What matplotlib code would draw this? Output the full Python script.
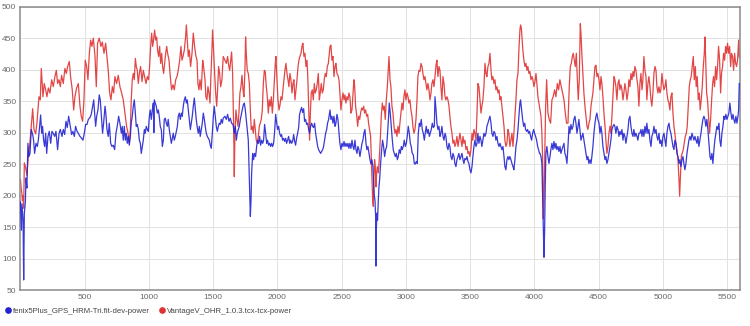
import matplotlib
matplotlib.use("Agg")
import matplotlib.pyplot as plt
from matplotlib.lines import Line2D

# --- Data (vertices of each trace) ---
blue_label = "fenix5Plus_GPS_HRM-Tri.fit-dev-power"
red_label = "VantageV_OHR_1.0.3.tcx-tcx-power"

blue_x = [0, 5, 7, 12, 20, 25, 30, 38, 43, 50, 58, 66, 74, 84, 95, 102, 110, 121, 131, 139,
          149, 157, 165, 172, 180, 188, 196, 204, 214, 224, 235, 245, 255, 266, 276, 289, 300, 310, 323, 333,
          344, 354, 364, 375, 385, 398, 408, 419, 429, 440, 450, 463, 476, 486, 497, 507, 518, 528, 541, 551,
          562, 570, 577, 585, 593, 603, 613, 621, 632, 639, 647, 658, 665, 673, 683, 691, 702, 712, 722, 733,
          743, 753, 764,
          774, 785, 792, 800, 808, 816, 823, 831, 839, 847, 855, 862, 870, 878, 886, 894, 901, 909, 917, 925,
          933, 940, 948, 956, 964, 971, 979, 987, 995, 1003, 1010, 1018, 1026, 1034, 1038, 1042, 1049, 1057, 1065, 1073,
          1080, 1088, 1096, 1104, 1112, 1119, 1127, 1135, 1143, 1150, 1158, 1166, 1174, 1182, 1189, 1197, 1205, 1213, 1221, 1228,
          1236, 1244, 1252, 1259, 1267, 1275, 1283, 1291, 1298, 1306, 1314, 1322, 1329, 1337, 1345, 1353, 1361, 1368, 1376, 1384,
          1392, 1399, 1407, 1415, 1423, 1431, 1438, 1446, 1454, 1462, 1470, 1477, 1485, 1493, 1501, 1508, 1516, 1524, 1532, 1540,
          1547, 1555, 1563, 1571, 1578,
          1591, 1602, 1612, 1623, 1633, 1643, 1654, 1664, 1672, 1680, 1687, 1695, 1703, 1711, 1719, 1726, 1734, 1742, 1750, 1757,
          1765, 1773, 1778, 1783, 1789, 1794, 1799, 1807, 1814, 1822, 1830, 1838, 1846, 1853, 1861, 1869, 1877, 1885, 1892, 1900,
          1908, 1916, 1923, 1931, 1939, 1947, 1955, 1962, 1970, 1978, 1986, 1994, 2001, 2009, 2017, 2025, 2032, 2040, 2048, 2056,
          2064, 2071, 2079, 2087, 2095, 2102, 2110, 2118, 2126, 2134, 2141, 2149, 2157, 2165, 2172, 2180, 2188, 2196, 2204, 2211,
          2219, 2227, 2235, 2243, 2250, 2258, 2266, 2274, 2281, 2289, 2297, 2305, 2313, 2320, 2328, 2336, 2344, 2352, 2359, 2367,
          2375, 2383, 2390, 2398,
          2409, 2416, 2424, 2432, 2440, 2448, 2455, 2463, 2471, 2479, 2486, 2494, 2502, 2510, 2518, 2525, 2533, 2541, 2549, 2556,
          2564, 2572, 2580, 2588, 2595, 2603, 2611, 2619, 2626, 2634, 2642, 2650, 2658, 2665, 2673, 2681, 2689, 2696, 2704, 2712,
          2720, 2728, 2735, 2743, 2748, 2754, 2759, 2764, 2766, 2769, 2774, 2779, 2785, 2790, 2795, 2803, 2811, 2818, 2826, 2834,
          2842, 2850, 2857, 2865, 2870, 2878, 2886, 2894, 2901, 2909, 2917, 2925, 2933, 2940, 2948, 2956, 2964, 2971, 2979, 2987,
          2995, 3003, 3010, 3018, 3026, 3034, 3041, 3049, 3057, 3065, 3072, 3080, 3088, 3096, 3104, 3111, 3119, 3127, 3135, 3143,
          3150, 3158, 3166, 3174, 3182, 3189, 3197, 3205, 3213, 3221,
          3226, 3234, 3241, 3249, 3257, 3265, 3272, 3280, 3288, 3296, 3304, 3311, 3319, 3327, 3335, 3342, 3350, 3358, 3366, 3374,
          3381, 3389, 3397, 3405, 3412, 3420, 3428, 3436, 3444, 3451, 3459, 3467, 3475, 3483, 3490, 3498, 3506, 3514, 3521, 3529,
          3537, 3545, 3553, 3560, 3568, 3576, 3584, 3591, 3599, 3607, 3615, 3623, 3630, 3638, 3646, 3654, 3662, 3669, 3677, 3685,
          3693, 3700, 3708, 3716, 3724, 3732, 3739, 3747, 3755, 3763, 3770, 3778, 3786, 3794, 3801, 3809, 3817, 3825, 3833, 3840,
          3848, 3856, 3864, 3872, 3879, 3887, 3892, 3900, 3908, 3916, 3924, 3931, 3939, 3947, 3954, 3962, 3970, 3978, 3986, 3994,
          4001, 4009, 4017, 4025, 4032, 4040,
          4043, 4051, 4058, 4064, 4069, 4074, 4079, 4084, 4089, 4097, 4105, 4113, 4121, 4128, 4136, 4144, 4152, 4160, 4167, 4175,
          4183, 4191, 4199, 4206, 4214, 4222, 4230, 4237, 4245, 4253, 4261, 4269, 4276, 4284, 4292, 4300, 4307, 4315, 4323, 4331,
          4339, 4346, 4354, 4362, 4370, 4377, 4385, 4393, 4401, 4409, 4416, 4424, 4432, 4440, 4447, 4455, 4463, 4471, 4479, 4486,
          4494, 4502, 4510, 4518, 4525, 4533, 4541, 4549, 4556, 4564, 4572, 4580, 4588, 4595, 4603, 4611, 4619, 4626, 4634, 4642,
          4650, 4658, 4665, 4673, 4681, 4689, 4696, 4704, 4712, 4720, 4728, 4735, 4743, 4751, 4759, 4767, 4774, 4782, 4790, 4798,
          4805, 4813,
          4821, 4829, 4837, 4844, 4852, 4860, 4868, 4875, 4883, 4891, 4899, 4907, 4914, 4922, 4930, 4938, 4946, 4953, 4961, 4969,
          4977, 4984, 4992, 5000, 5008, 5016, 5023, 5031, 5039, 5047, 5054, 5062, 5070, 5078, 5086, 5093, 5101, 5109, 5117, 5125,
          5132, 5140, 5148, 5156, 5163, 5171, 5179, 5187, 5195, 5202, 5210, 5218, 5226, 5233, 5241, 5249, 5257, 5265, 5272, 5280,
          5288, 5296, 5303, 5311, 5319, 5327, 5334, 5342, 5350, 5358, 5366, 5373, 5381, 5389, 5397, 5404, 5412, 5420, 5428, 5436,
          5443, 5451, 5459, 5467, 5475, 5482, 5490, 5498, 5506, 5513, 5521, 5529, 5537, 5545, 5552, 5560, 5568, 5576, 5584, 5589,
          5594]
blue_y = [190, 161, 145, 187, 161, 66, 171, 190, 228, 212, 283, 262, 267, 305, 297, 288, 267, 283, 278, 288,
          310, 328, 299, 310, 288, 278, 299, 267, 294, 302, 283, 302, 299, 294, 302, 273, 299, 305, 294, 305,
          297, 318, 308, 326, 313, 297, 302, 294, 310, 302, 299, 294, 291, 288, 299, 313, 313, 321, 324, 329,
          342, 352, 331, 310, 326, 336, 360, 352, 321, 299, 315, 342, 329, 305, 294, 315, 283, 278, 280, 273,
          299, 310, 326,
          315, 299, 310, 288, 310, 288, 299, 283, 294, 280, 294, 315, 326, 342, 352, 331, 310, 313, 305, 288,
          283, 267, 278, 288, 305, 299, 310, 305, 302, 326, 336, 321, 336, 347, 300, 352, 347, 342, 331, 336,
          326, 310, 305, 278, 288, 321, 323, 315, 310, 321, 305, 294, 283, 291, 299, 288, 294, 302, 310, 326,
          331, 321, 331, 326, 342, 352, 357, 347, 352, 336, 321, 305, 315, 326, 342, 355, 336, 321, 308, 299,
          310, 294, 305, 315, 331, 321, 310, 299, 294, 291, 288, 280, 275, 299, 326, 342, 326, 310, 302, 310,
          315, 313, 321, 315, 323,
          326, 321, 329, 318, 323, 315, 313, 299, 310, 288, 299, 305, 310, 321, 329, 336, 344, 347, 336, 321,
          305, 288, 251, 214, 167, 192, 236, 267, 257, 267, 262, 278, 288, 283, 294, 280, 288, 283, 288, 313,
          299, 283, 288, 280, 283, 278, 283, 278, 283, 302, 329, 315, 305, 310, 299, 294, 297, 288, 291, 286,
          291, 283, 288, 294, 283, 288, 283, 286, 297, 286, 280, 291, 299, 308, 329, 335, 340, 332, 338, 318,
          321, 313, 315, 305, 299, 310, 315, 310, 308, 315, 299, 288, 278, 273, 270, 267, 270, 273, 278, 288,
          299, 305, 315, 321,
          336, 321, 326, 315, 326, 310, 315, 329, 321, 299, 283, 273, 283, 278, 286, 278, 283, 278, 283, 275,
          283, 275, 288, 278, 273, 288, 273, 267, 278, 273, 262, 273, 283, 288, 299, 305, 283, 273, 278, 267,
          257, 250, 257, 246, 220, 199, 193, 167, 88, 141, 172, 161, 193, 214, 225, 251, 273, 288, 278, 262,
          273, 278, 299, 326, 347, 331, 310, 288, 273, 267, 262, 267, 257, 262, 273, 267, 278, 273, 278, 288,
          278, 283, 294, 310, 299, 283, 278, 267, 265, 251, 250, 254, 251, 299, 315, 310, 321, 305, 299, 288,
          299, 310, 299, 305, 294, 299, 305, 315, 308, 310,
          357, 336, 315, 305, 310, 294, 299, 310, 294, 288, 299, 294, 278, 273, 283, 278, 262, 257, 267, 262,
          251, 246, 257, 262, 267, 257, 262, 267, 257, 251, 259, 257, 262, 254, 251, 241, 236, 246, 262, 278,
          288, 278, 283, 299, 283, 294, 288, 278, 288, 299, 294, 299, 310, 315, 321, 326, 315, 299, 294, 302,
          299, 288, 294, 283, 278, 283, 278, 273, 278, 262, 246, 241, 257, 262, 257, 262, 257, 251, 246, 241,
          257, 278, 288, 305, 326, 347, 352, 336, 321, 310, 315, 305, 302, 305, 299, 302, 294, 288, 299, 305,
          299, 294, 288, 278, 273, 267,
          267, 262, 251, 193, 141, 102, 141, 214, 267, 278, 262, 251, 262, 273, 283, 273, 286, 275, 283, 273,
          278, 270, 278, 267, 273, 278, 283, 267, 262, 251, 278, 310, 299, 313, 305, 310, 321, 326, 315, 299,
          310, 321, 305, 288, 294, 299, 288, 278, 267, 257, 262, 251, 257, 251, 262, 278, 299, 315, 326, 331,
          321, 315, 299, 310, 299, 278, 267, 257, 262, 251, 257, 267, 278, 288, 305, 310, 313, 310, 299, 310,
          305, 294, 302, 297, 305, 288, 299, 294, 283, 294, 305, 321, 326, 310, 299, 294, 305, 294, 299, 294,
          288, 299,
          299, 305, 294, 305, 294, 310, 299, 315, 299, 305, 288, 278, 294, 299, 310, 299, 305, 294, 288, 299,
          283, 288, 278, 294, 299, 288, 278, 299, 310, 315, 305, 299, 288, 278, 273, 288, 283, 267, 262, 251,
          257, 246, 257, 262, 251, 241, 251, 267, 278, 288, 294, 288, 299, 294, 288, 294, 288, 283, 294, 278,
          288, 299, 310, 321, 326, 321, 310, 321, 305, 283, 262, 257, 267, 251, 273, 288, 299, 310, 305, 315,
          288, 278, 299, 310, 326, 321, 329, 321, 326, 331, 347, 331, 321, 329, 321, 315, 326, 315, 326, 336,
          378]

red_x = [0, 5, 10, 15, 20, 25, 30, 40, 50, 61, 71, 82, 95, 105, 118, 128, 144, 154, 162, 175,
         185, 196, 206, 217, 229, 243, 255, 268, 279, 289, 300, 310, 320, 333, 346, 357, 367, 380, 390, 403,
         414, 424, 437, 450, 463, 473, 484, 494, 504, 515, 525, 536, 546, 556, 567, 580, 590, 600, 613, 626,
         637, 650, 663, 673, 683, 694, 704, 715, 725, 735, 748, 761,
         774, 787, 800, 813, 826, 837, 847, 855, 862, 870, 878, 886, 894, 901, 909, 917, 925, 935, 946, 956,
         966, 977, 987, 997, 1005, 1013, 1021, 1029, 1036, 1044, 1052, 1060, 1067, 1075, 1083, 1091, 1099, 1106, 1114, 1122,
         1130, 1138, 1145, 1156, 1166, 1176, 1187, 1197, 1208, 1218, 1228, 1239, 1249, 1257, 1265, 1275, 1285, 1291, 1298, 1306,
         1314, 1324, 1335, 1345, 1355, 1366, 1374, 1381, 1389, 1397, 1407, 1418, 1425, 1436, 1443, 1451, 1459, 1467, 1475, 1482,
         1490, 1495, 1503, 1511, 1519, 1527, 1534, 1542, 1550, 1558, 1568, 1578,
         1591, 1602, 1612, 1620, 1628, 1636, 1643, 1651, 1659, 1664, 1669, 1677, 1685, 1693, 1700, 1708, 1716, 1724, 1732, 1739,
         1747, 1752, 1757, 1765, 1773, 1781, 1789, 1796, 1804, 1812, 1820, 1827, 1835, 1843, 1851, 1859, 1866, 1874, 1882, 1890,
         1898, 1905, 1913, 1921, 1929, 1936, 1944, 1952, 1960, 1968, 1975, 1983, 1988, 1996, 2004, 2012, 2020, 2027, 2035, 2043,
         2051, 2058, 2066, 2074, 2082, 2089, 2097, 2105, 2113, 2121, 2128, 2136, 2144, 2152, 2160, 2167, 2175, 2183, 2191, 2198,
         2206, 2214, 2222, 2230, 2237, 2245, 2250, 2256, 2263, 2271, 2279, 2287, 2294, 2302, 2310, 2318, 2326, 2333, 2341, 2349,
         2357, 2364, 2372, 2380, 2388, 2396,
         2409, 2416, 2424, 2432, 2440, 2448, 2455, 2463, 2471, 2479, 2486, 2494, 2502, 2510, 2518, 2525, 2533, 2541, 2549, 2556,
         2564, 2572, 2580, 2588, 2595, 2601, 2608, 2616, 2624, 2632, 2640, 2647, 2655, 2663, 2671, 2678, 2686, 2694, 2702, 2709,
         2717, 2725, 2730, 2735, 2741, 2746, 2751, 2756, 2761, 2767, 2772, 2777, 2785, 2792, 2800, 2808, 2816, 2824, 2831, 2839,
         2847, 2855, 2862, 2868, 2876, 2883, 2891, 2899, 2907, 2914, 2922, 2930, 2938, 2946, 2953, 2961, 2969, 2977, 2984, 2992,
         3000, 3008, 3016, 3023, 3031, 3039, 3047, 3054, 3062, 3070, 3078, 3086, 3093, 3101, 3109, 3117, 3125, 3132, 3140, 3148,
         3156, 3163, 3171, 3179, 3187, 3195, 3202, 3210, 3218,
         3226, 3234, 3241, 3249, 3257, 3265, 3272, 3280, 3288, 3296, 3304, 3311, 3319, 3327, 3335, 3342, 3350, 3358, 3366, 3374,
         3381, 3389, 3397, 3405, 3412, 3420, 3428, 3436, 3444, 3451, 3459, 3467, 3475, 3483, 3490, 3498, 3506, 3514, 3521, 3529,
         3537, 3545, 3553, 3560, 3568, 3576, 3584, 3591, 3599, 3607, 3615, 3623, 3630, 3638, 3646, 3654, 3662, 3669, 3677, 3685,
         3693, 3700, 3708, 3716, 3724, 3732, 3739, 3747, 3755, 3763, 3770, 3778, 3786, 3794, 3801, 3809, 3817, 3825, 3833, 3840,
         3848, 3856, 3864, 3872, 3879, 3887, 3892, 3898, 3903, 3910, 3918, 3926, 3934, 3942, 3949, 3957, 3965, 3973, 3981, 3988,
         3996, 4004, 4012, 4019, 4027, 4035,
         4043, 4051, 4058, 4064, 4069, 4074, 4079, 4087, 4095, 4105, 4115, 4126, 4136, 4146, 4157, 4167, 4178, 4188, 4198, 4209,
         4219, 4230, 4240, 4250, 4261, 4271, 4279, 4287, 4295, 4302, 4310, 4318, 4326, 4333, 4341, 4349, 4357, 4362, 4370, 4377,
         4385, 4393, 4401, 4409, 4416, 4424, 4432, 4440, 4447, 4455, 4463, 4471, 4479, 4486, 4494, 4502, 4510, 4518, 4525, 4533,
         4541, 4549, 4556, 4564, 4572, 4580, 4588, 4595, 4603, 4611, 4619, 4626, 4634, 4642, 4650, 4658, 4665, 4673, 4681, 4689,
         4696, 4704, 4712, 4720, 4728, 4735, 4743, 4751, 4759, 4767, 4774, 4782, 4790, 4798, 4805, 4813,
         4821, 4829, 4837, 4844, 4852, 4860, 4868, 4875, 4883, 4891, 4899, 4907, 4914, 4922, 4930, 4938, 4946, 4953, 4961, 4969,
         4977, 4984, 4992, 5000, 5008, 5016, 5023, 5031, 5039, 5047, 5054, 5062, 5070, 5078, 5086, 5093, 5101, 5109, 5117, 5125,
         5130, 5135, 5143, 5150, 5158, 5166, 5174, 5182, 5189, 5197, 5205, 5213, 5220, 5228, 5236, 5244, 5252, 5259, 5267, 5275,
         5283, 5290, 5298, 5306, 5314, 5322, 5327, 5332, 5340, 5347, 5355, 5363, 5371, 5379, 5387, 5394, 5402, 5410, 5418, 5425,
         5433, 5441, 5449, 5456, 5464, 5472, 5480, 5488, 5495, 5503, 5511, 5519, 5527, 5534, 5542, 5550, 5558, 5566, 5573, 5581,
         5589, 5594]
red_y = [225, 213, 205, 192, 200, 180, 252, 245, 232, 262, 278, 305, 338, 305, 298, 315, 357, 352, 402, 357,
         378, 368, 357, 371, 363, 384, 373, 389, 399, 378, 384, 373, 391, 378, 402, 394, 405, 413, 389, 368,
         336, 357, 371, 378, 342, 326, 318, 352, 415, 405, 384, 426, 447, 437, 450, 421, 373, 442, 450, 437,
         444, 426, 442, 421, 399, 363, 352, 373, 363, 389, 378, 391,
         373, 363, 352, 331, 310, 299, 283, 305, 352, 384, 394, 384, 418, 405, 399, 378, 394, 405, 381, 399,
         389, 378, 389, 384, 405, 437, 458, 437, 447, 463, 447, 452, 431, 421, 437, 410, 426, 405, 394, 410,
         426, 437, 426, 415, 389, 368, 376, 368, 384, 389, 399, 415, 437, 415, 421, 431, 452, 471, 447, 421,
         431, 405, 426, 458, 437, 421, 415, 378, 368, 384, 368, 415, 405, 384, 357, 352, 373, 363, 347, 389,
         431, 463, 431, 394, 363, 342, 368, 405, 394, 373, 384, 421,
         415, 410, 421, 407, 399, 415, 428, 394, 310, 230, 299, 336, 321, 310, 331, 363, 373, 391, 368, 357,
         399, 452, 426, 399, 394, 378, 336, 305, 310, 299, 321, 305, 288, 283, 294, 310, 315, 321, 336, 378,
         399, 397, 373, 357, 331, 352, 342, 357, 331, 352, 378, 410, 421, 384, 352, 336, 344, 357, 352, 368,
         384, 399, 410, 394, 384, 373, 394, 384, 363, 378, 384, 352, 368, 384, 405, 415, 421, 426, 437, 442,
         421, 426, 405, 415, 384, 321, 288, 331, 363, 368, 352, 378, 363, 368, 378, 394, 352, 363, 378, 363,
         368, 384, 394, 389, 405, 410,
         437, 439, 415, 421, 389, 405, 410, 394, 391, 384, 363, 336, 352, 363, 352, 360, 347, 357, 352, 363,
         357, 331, 336, 363, 384, 373, 342, 329, 310, 326, 321, 331, 339, 336, 342, 331, 336, 326, 329, 315,
         305, 294, 262, 225, 193, 183, 230, 257, 246, 214, 236, 246, 236, 257, 288, 326, 347, 336, 342, 321,
         352, 373, 399, 421, 384, 373, 342, 331, 310, 299, 305, 294, 310, 299, 315, 331, 347, 336, 357, 368,
         352, 363, 357, 347, 352, 336, 326, 310, 299, 305, 321, 352, 389, 399, 397, 410, 405, 394, 384, 389,
         378, 368, 378, 368, 352, 363, 378, 384, 373,
         389, 407, 415, 389, 405, 399, 373, 352, 389, 378, 357, 352, 357, 352, 342, 326, 310, 299, 283, 288,
         278, 283, 294, 278, 288, 299, 288, 278, 294, 283, 288, 273, 278, 267, 270, 262, 273, 299, 288, 305,
         299, 288, 331, 378, 373, 352, 331, 342, 352, 373, 410, 394, 389, 405, 410, 426, 399, 384, 389, 378,
         384, 368, 373, 363, 368, 352, 357, 342, 326, 310, 288, 278, 283, 305, 299, 278, 288, 299, 278, 299,
         326, 352, 384, 394, 431, 463, 471, 466, 452, 431, 415, 405, 410, 399, 405, 394, 397, 384, 389, 384,
         373, 381, 394, 378, 357, 347,
         336, 326, 299, 257, 163, 192, 246, 340, 384, 331, 321, 315, 352, 357, 368, 357, 378, 368, 384, 373,
         363, 352, 331, 315, 315, 373, 405, 410, 421, 426, 415, 405, 426, 389, 352, 384, 473, 458, 421, 394,
         363, 342, 326, 310, 305, 315, 321, 342, 352, 363, 384, 405, 407, 389, 394, 384, 368, 389, 378, 357,
         331, 310, 288, 267, 278, 299, 310, 299, 326, 357, 389, 384, 373, 352, 378, 384, 368, 376, 368, 352,
         363, 378, 368, 352, 363, 384, 373, 394, 384, 397, 389, 405, 399, 384, 373, 342,
         378, 394, 368, 384, 421, 399, 389, 352, 378, 389, 373, 352, 342, 363, 394, 405, 399, 373, 363, 373,
         363, 368, 394, 378, 368, 373, 384, 363, 352, 347, 336, 357, 363, 331, 310, 299, 283, 273, 257, 225,
         199, 225, 262, 267, 273, 283, 294, 299, 310, 342, 373, 384, 389, 405, 421, 384, 405, 373, 389, 352,
         363, 336, 352, 373, 405, 426, 452, 421, 363, 352, 326, 299, 321, 352, 378, 389, 373, 405, 384, 405,
         437, 415, 363, 394, 405, 426, 415, 437, 426, 442, 426, 437, 405, 426, 421, 399, 426, 410, 405, 415,
         447, 420]

x_ticks = [500, 1000, 1500, 2000, 2500, 3000, 3500, 4000, 4500, 5000, 5500]
y_ticks = [50, 100, 150, 200, 250, 300, 350, 400, 450, 500]

BLUE = "#2323d2"
RED = "#e03232"

plt.rcParams["font.family"] = ["Liberation Sans", "DejaVu Sans"]

fig = plt.figure(figsize=(7.5, 3.26), dpi=100)
ax = fig.add_axes([0.0273, 0.1104, 0.9594, 0.869])

ax.plot(blue_x, blue_y, color=BLUE, lw=0.9, alpha=0.9, zorder=3)
ax.plot(red_x, red_y, color=RED, lw=0.9, alpha=0.9, zorder=2)

ax.set_xlim(0, 5600)
ax.set_ylim(50, 500)
ax.set_xticks(x_ticks)
ax.set_yticks(y_ticks)
ax.tick_params(length=0, labelsize=6.0, labelcolor="#6a6a6a", pad=3)
ax.grid(True, color="#e2e2e2", lw=0.7)
ax.set_axisbelow(True)
for side in ax.spines.values():
    side.set_color("#8a8a8a")
    side.set_linewidth(1.1)

handles = [
    Line2D([], [], ls="none", marker="o", ms=3.8, color=BLUE, label=blue_label),
    Line2D([], [], ls="none", marker="o", ms=3.8, color=RED, label=red_label),
]
fig.legend(handles=handles, loc="lower left", bbox_to_anchor=(-0.003, 0.015), ncol=2,
           frameon=False, fontsize=5.6, handletextpad=0.15, columnspacing=1.0,
           borderaxespad=0.4, handlelength=1.0, labelcolor="#444444")

fig.savefig("out.png", dpi=100)
